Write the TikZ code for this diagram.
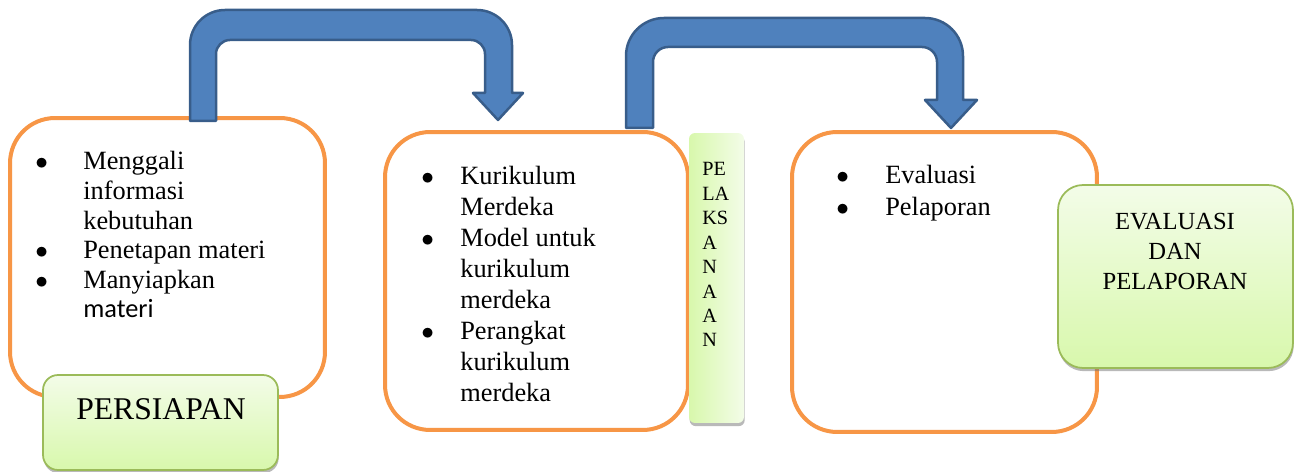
\documentclass[tikz,border=0pt]{standalone}
\usepackage{fontspec}
\setmainfont{Liberation Serif}
\newfontfamily\calibri{Carlito}
\usetikzlibrary{positioning,shadows}

\definecolor{oranye}{HTML}{F79646}
\definecolor{biru}{HTML}{4F81BD}
\definecolor{birutua}{HTML}{385D8A}
\definecolor{hijaugaris}{HTML}{9BBB59}
\definecolor{hijaumuda}{HTML}{F3FCE8}
\definecolor{hijau}{HTML}{D8F8AC}

\tikzset{
  kotak/.style={draw=oranye, line width=0.08cm, rounded corners=0.9cm, fill=white},
  judul/.style={draw=hijaugaris, line width=0.035cm, top color=hijaumuda, bottom color=hijau,
    drop shadow={shadow xshift=0.4pt, shadow yshift=-1.8pt, fill=black!55, opacity=0.5}},
  pita/.style={left color=hijau, right color=hijaumuda, rounded corners=0.12cm,
    drop shadow={shadow xshift=0.4pt, shadow yshift=-1.8pt, fill=black!55, opacity=0.5}},
  panah/.style={fill=biru, draw=birutua, line width=0.05cm, line join=round},
  isi/.style={anchor=base west, inner sep=0pt}
}

\begin{document}
\begin{tikzpicture}[x=0.02cm, y=-0.02cm]
	\useasboundingbox (0,0) rectangle (1296,472);

		%Kotak oranye tahap persiapan
		\node (persiapan) [kotak, minimum width=6.3cm, minimum height=5.58cm] at (167.5,257.5) {};
		\node (isipersiapan) [isi, font=\fontsize{15}{16.8}\selectfont] at (35,170) {\begin{tabular}[t]{@{}p{0.96cm}@{}l@{}}
			$\bullet$ & Menggali\\
			 & informasi\\
			 & kebutuhan\\
			$\bullet$ & Penetapan materi\\
			$\bullet$ & Manyiapkan\\
			 & {\calibri materi}
		\end{tabular}};
		%Judul persiapan di bawah
		\node (judulpersiapan) [judul, rounded corners=0.3cm, minimum width=4.7cm, minimum height=1.9cm] at (160.5,422.5) {};
		\node (tekspersiapan) [anchor=base, inner sep=0pt, font=\fontsize{18}{21}\selectfont] at (161,420) {PERSIAPAN};

		%Kotak oranye tahap pelaksanaan
		\node (pelaksanaan) [kotak, minimum width=6.06cm, minimum height=5.96cm] at (536.5,281) {};
		\node (isipelaksanaan) [isi, font=\fontsize{15}{17.6}\selectfont] at (421,185) {\begin{tabular}[t]{@{}p{0.78cm}@{}l@{}}
			$\bullet$ & Kurikulum\\
			 & Merdeka\\
			$\bullet$ & Model untuk\\
			 & kurikulum\\
			 & merdeka\\
			$\bullet$ & Perangkat\\
			 & kurikulum\\
			 & merdeka
		\end{tabular}};
		%Pita hijau tegak
		\node (pita) [pita, minimum width=1.1cm, minimum height=5.8cm] at (716.5,278) {};
		\node (tekspita) [isi, font=\fontsize{11.5}{13.9}\selectfont] at (702,176) {\begin{tabular}[t]{@{}l@{}}
			PE\\ LA\\ KS\\ A\\ N\\ A\\ A\\ N
		\end{tabular}};

		%Kotak oranye tahap evaluasi
		\node (evaluasi) [kotak, minimum width=6.1cm, minimum height=6cm] at (944.5,282) {};
		\node (isievaluasi) [isi, font=\fontsize{15}{18.1}\selectfont] at (836,184) {\begin{tabular}[t]{@{}p{0.98cm}@{}l@{}}
			$\bullet$ & Evaluasi\\
			$\bullet$ & Pelaporan
		\end{tabular}};
		%Judul evaluasi di kanan
		\node (judulevaluasi) [judul, rounded corners=0.5cm, minimum width=4.7cm, minimum height=3.66cm] at (1175.5,276.5) {};
		\node (teksevaluasi) [anchor=base, inner sep=0pt, font=\fontsize{14}{17}\selectfont] at (1175,230) {\begin{tabular}[t]{@{}c@{}}
			EVALUASI\\ DAN\\ PELAPORAN
		\end{tabular}};

		%Panah biru pertama
		\draw[panah] (190,121) -- (190,45) .. controls (190,25.7) and (205.7,10) .. (225,10)
			-- (477,10) .. controls (496.3,10) and (512,25.7) .. (512,45)
			-- (512,93) -- (523,93) -- (498,120) -- (473,93) -- (485,93)
			-- (485,54) .. controls (485,46.3) and (478.7,40) .. (471,40)
			-- (230,40) .. controls (222.3,40) and (216,46.3) .. (216,54)
			-- (216,121) -- cycle;

		%Panah biru kedua
		\draw[panah] (626,128) -- (626,56) .. controls (626,35) and (643,18) .. (664,18)
			-- (925,18) .. controls (946,18) and (963,35) .. (963,56)
			-- (963,100) -- (977,100) -- (951,128) -- (925,100) -- (937,100)
			-- (937,62) .. controls (937,53.7) and (930.3,47) .. (922,47)
			-- (668,47) .. controls (659.7,47) and (653,53.7) .. (653,62)
			-- (653,128) -- cycle;

\end{tikzpicture}
\end{document}
